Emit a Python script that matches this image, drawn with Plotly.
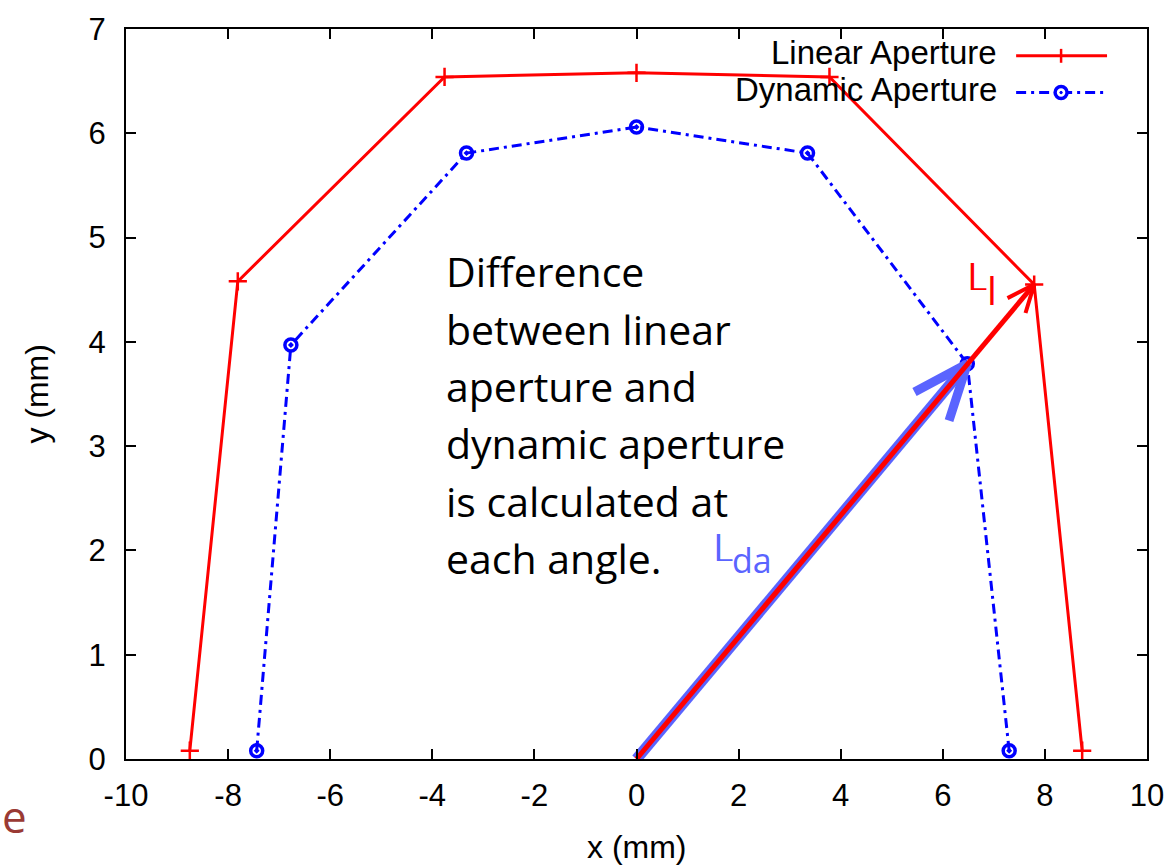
import math
import plotly.graph_objects as go

# Linear aperture boundary (mm)
lin_x = [-8.75, -7.81, -3.76, 0.0, 3.78, 7.79, 8.73]
lin_y = [0.08, 4.58, 6.54, 6.58, 6.54, 4.55, 0.08]

# Dynamic aperture boundary (mm)
da_x = [-7.44, -6.77, -3.33, 0.0, 3.35, 6.48, 7.30]
da_y = [0.08, 3.97, 5.81, 6.06, 5.81, 3.79, 0.08]

x_tick_vals = [-10, -8, -6, -4, -2, 0, 2, 4, 6, 8, 10]
x_tick_text = ["-10", "-8", "-6", "-4", "-2", "0", "2", "4", "6", "8", "10"]
y_tick_vals = [0, 1, 2, 3, 4, 5, 6, 7]
y_tick_text = ["0", "1", "2", "3", "4", "5", "6", "7"]

note_lines = ["Difference", "between linear", "aperture and",
              "dynamic aperture", "is calculated at", "each angle."]

# which boundary point the arrows point at (the ~30 degree direction)
ARROW_IDX = 5

W, H = 1176, 865
ML, MR, MT, MB = 126, 28, 24, 106
X0, X1 = -10, 10
Y0, Y1 = 0, 7
PW, PH = W - ML - MR, H - MT - MB

RED = "#ff0000"
BLUE = "#0000ff"
SOFT_BLUE = "#5a64ff"
AX_FONT = "Liberation Sans, Arial, sans-serif"
NOTE_FONT = "Open Sans, sans-serif"
DASHDOT = "10px,5px,3px,5px"


def to_px(x, y):
    return ML + (x - X0) / (X1 - X0) * PW, MT + (Y1 - y) / (Y1 - Y0) * PH


def to_data(px, py):
    return X0 + (px - ML) / PW * (X1 - X0), Y1 - (py - MT) / PH * (Y1 - Y0)


def px_paper(px, py):
    return (px - ML) / PW, (MT + PH - py) / PH


def chevron(tip, origin, length, half_angle):
    """Open arrowhead (V) at tip, pointing away from origin, sized in pixels."""
    tx, ty = to_px(*tip)
    ox, oy = to_px(*origin)
    back = math.atan2(oy - ty, ox - tx)
    xs, ys = [], []
    for k, s in enumerate((1, -1)):
        a = back + s * math.radians(half_angle)
        ex, ey = to_data(tx + length * math.cos(a), ty + length * math.sin(a))
        xs.append(ex)
        ys.append(ey)
        if k == 0:
            xs.append(tip[0])
            ys.append(tip[1])
    return xs, ys


def label(px, py, text, size, color, family, anchor="left", angle=0,
          box_h=None):
    x, y = px_paper(px, py)
    d = dict(x=x, y=y, xref="paper", yref="paper", text=text,
             showarrow=False, xanchor=anchor, yanchor="middle",
             textangle=angle, borderpad=0,
             font=dict(family=family, size=size, color=color))
    if box_h is not None:
        d["height"] = box_h
        d["valign"] = "middle"
    return d


fig = go.Figure()

fig.add_trace(go.Scatter(
    x=lin_x, y=lin_y, mode="lines+markers", name="Linear Aperture",
    line=dict(color=RED, width=3),
    marker=dict(symbol="cross-thin", size=13, line=dict(color=RED, width=2.5)),
    showlegend=False,
))
fig.add_trace(go.Scatter(
    x=da_x, y=da_y, mode="lines+markers", name="Dynamic Aperture",
    line=dict(color=BLUE, width=3, dash=DASHDOT),
    marker=dict(symbol="circle-open-dot", size=12, color=BLUE,
                line=dict(color=BLUE, width=3.5)),
    showlegend=False,
))

origin = (0.0, 0.0)
da_pt = (da_x[ARROW_IDX], da_y[ARROW_IDX])
lin_pt = (lin_x[ARROW_IDX], lin_y[ARROW_IDX])

# L_da arrow: wide soft-blue shaft with open head at the dynamic aperture
fig.add_trace(go.Scatter(
    x=[origin[0], da_pt[0]], y=[origin[1], da_pt[1]], mode="lines",
    line=dict(color=SOFT_BLUE, width=11), showlegend=False, hoverinfo="skip",
))
cx, cy = chevron(da_pt, origin, 60, 22)
fig.add_trace(go.Scatter(
    x=cx, y=cy, mode="lines", line=dict(color=SOFT_BLUE, width=9),
    showlegend=False, hoverinfo="skip",
))

# L_l arrow: red shaft to the linear aperture
fig.add_trace(go.Scatter(
    x=[origin[0], lin_pt[0]], y=[origin[1], lin_pt[1]], mode="lines",
    line=dict(color=RED, width=5), showlegend=False, hoverinfo="skip",
))
cx, cy = chevron(lin_pt, origin, 30, 23)
fig.add_trace(go.Scatter(
    x=cx, y=cy, mode="lines", line=dict(color=RED, width=4),
    showlegend=False, hoverinfo="skip",
))

annotations = []
shapes = []

# key in the upper-right corner: label right-aligned, line sample to the right
key = [
    ("Linear Aperture", 51, RED, "solid", "plus"),
    ("Dynamic Aperture", 88, BLUE, DASHDOT, "circle"),
]
for text, py, color, dash, mk in key:
    annotations.append(label(999, py - 3, text, 33, "black", AX_FONT,
                             anchor="right"))
    ax0, ay = px_paper(1017, py)
    ax1, _ = px_paper(1108, py)
    shapes.append(dict(
        type="line", xref="paper", yref="paper", x0=ax0, x1=ax1, y0=ay, y1=ay,
        line=dict(color=color, width=3, dash=dash),
    ))
    mx, my = 1062, py
    if mk == "plus":
        a0, b0 = px_paper(mx, my - 7)
        a1, b1 = px_paper(mx, my + 7)
        shapes.append(dict(type="line", xref="paper", yref="paper",
                           x0=a0, y0=b0, x1=a1, y1=b1,
                           line=dict(color=color, width=2.5)))
    else:
        a0, b0 = px_paper(mx - 6, my + 6)
        a1, b1 = px_paper(mx + 6, my - 6)
        shapes.append(dict(type="circle", xref="paper", yref="paper",
                           x0=a0, y0=b0, x1=a1, y1=b1, fillcolor="white",
                           line=dict(color=color, width=3.5)))
        a0, b0 = px_paper(mx - 1.2, my + 1.2)
        a1, b1 = px_paper(mx + 1.2, my - 1.2)
        shapes.append(dict(type="circle", xref="paper", yref="paper",
                           x0=a0, y0=b0, x1=a1, y1=b1, fillcolor=color,
                           line=dict(color=color, width=1)))

# explanatory note
for i, line in enumerate(note_lines):
    annotations.append(label(445, 268 + 57.7 * i, line, 41, "black",
                             NOTE_FONT))

# arrow labels (letter plus lowered, smaller suffix)
annotations.append(label(713, 545, "L", 39, SOFT_BLUE, NOTE_FONT, box_h=30))
annotations.append(label(732, 559, "da", 34, SOFT_BLUE, NOTE_FONT, box_h=30))
annotations.append(label(967, 272, "L", 39, RED, NOTE_FONT, box_h=30))
annotations.append(label(987, 286, "l", 39, RED, NOTE_FONT, box_h=32))

# axis titles
annotations.append(label(637, 848, "x (mm)", 32, "black", AX_FONT,
                         anchor="center"))
annotations.append(label(36, 391, "y (mm)", 32, "black", AX_FONT,
                         anchor="center", angle=-90))

# stray slide letter at the left edge
annotations.append(label(1, 816, "e", 44, "#9a3a34", NOTE_FONT))

axis_common = dict(
    showgrid=False, zeroline=False, showline=True, linecolor="black",
    linewidth=2, mirror="allticks", ticks="inside", ticklen=10,
    tickwidth=2, tickcolor="black",
    tickfont=dict(family=AX_FONT, size=31, color="black"),
)

fig.update_layout(
    width=W, height=H,
    margin=dict(l=ML, r=MR, t=MT, b=MB, pad=0),
    paper_bgcolor="white", plot_bgcolor="white",
    xaxis=dict(range=[X0, X1], tickvals=x_tick_vals, ticktext=x_tick_text,
               ticklabelstandoff=8, **axis_common),
    yaxis=dict(range=[Y0, Y1], tickvals=y_tick_vals, ticktext=y_tick_text,
               ticklabelstandoff=12, **axis_common),
    annotations=annotations,
    shapes=shapes,
    showlegend=False,
)

fig.write_html("out.html", config={"displayModeBar": False})
